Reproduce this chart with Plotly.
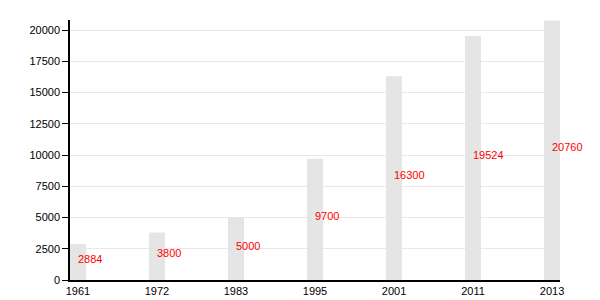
import plotly.graph_objects as go

years = ["1961", "1972", "1983", "1995", "2001", "2011", "2013"]
population = [2884, 3800, 5000, 9700, 16300, 19524, 20760]

fig = go.Figure()
fig.add_trace(go.Bar(
    x=years, y=population,
    marker=dict(color="#e5e5e5", line=dict(width=0)),
    width=0.2025,
    hoverinfo="skip",
))

for i, v in enumerate(population):
    fig.add_annotation(
        x=i, y=v / 2, text=str(v), showarrow=False,
        xanchor="left", yanchor="middle", xshift=-2, yshift=3,
        font=dict(family="Liberation Sans, Arial, sans-serif", size=11, color="#ff0000"),
    )

fig.update_layout(
    width=600, height=300,
    margin=dict(l=70, r=40, t=20, b=20, autoexpand=False),
    plot_bgcolor="white", paper_bgcolor="white",
    showlegend=False,
    font=dict(family="Liberation Sans, Arial, sans-serif", size=11, color="black"),
    xaxis=dict(
        type="category", range=[-0.101, 6.101], automargin=False,
        showline=True, linecolor="black", linewidth=1.5,
        showgrid=False, ticks="", tickfont=dict(size=11),
    ),
    yaxis=dict(
        range=[0, 20800], dtick=2500, tick0=0, tickformat="d", automargin=False,
        showline=True, linecolor="black", linewidth=1.5,
        showgrid=True, gridcolor="#e8e8e8", gridwidth=1,
        ticks="outside", ticklen=6, tickcolor="black", tickwidth=1,
        zeroline=False, tickfont=dict(size=11),
    ),
)

fig.write_html("out.html")
